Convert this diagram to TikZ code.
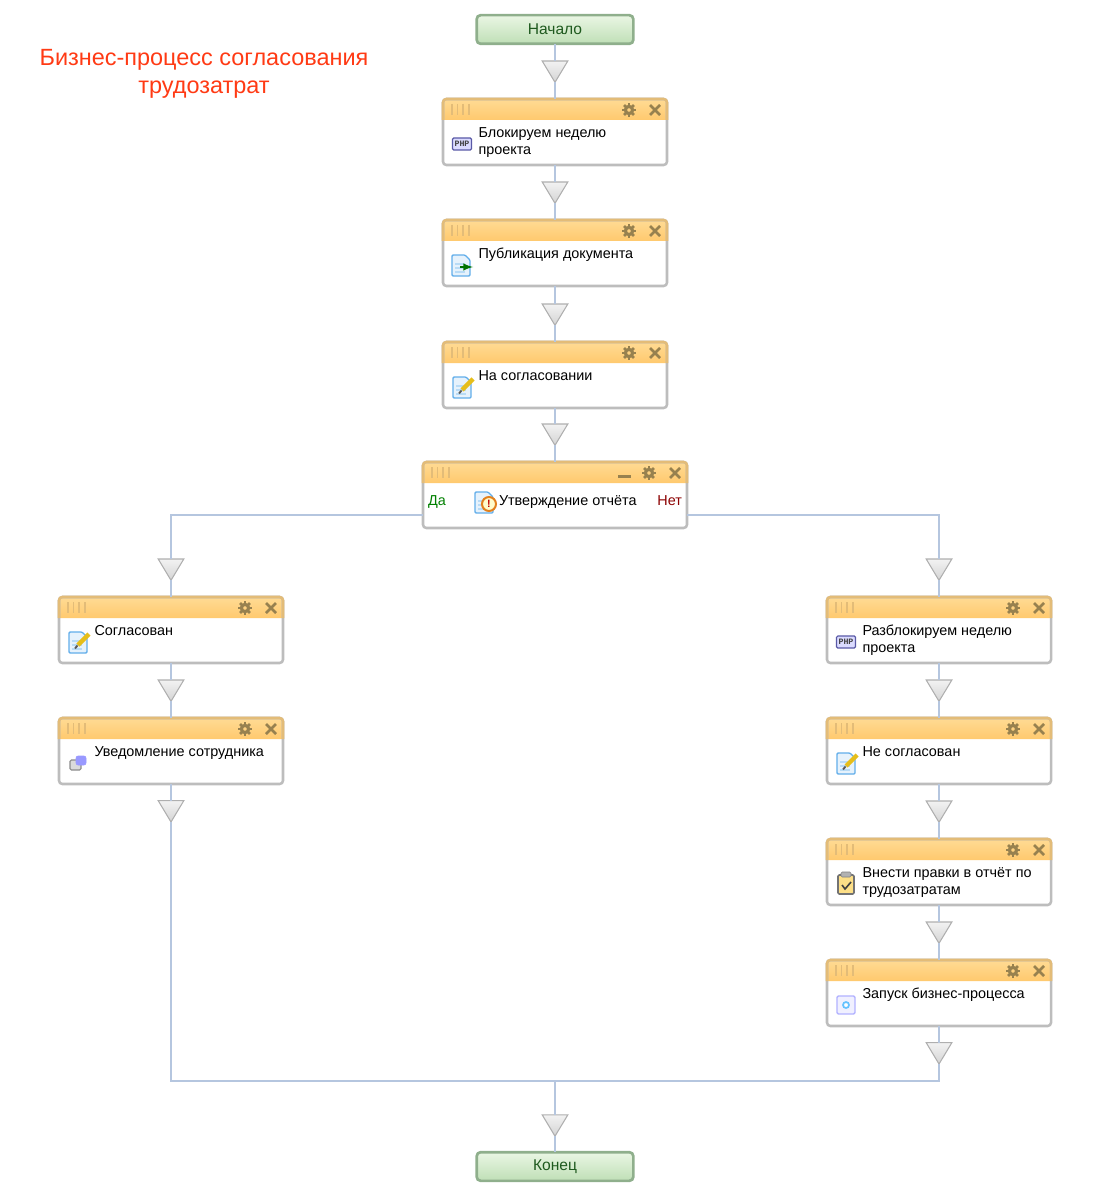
\documentclass[tikz,border=0pt]{standalone}
\usepackage{fontspec}
\setmainfont{Liberation Sans}
\setmonofont{Liberation Mono}
\usetikzlibrary{positioning, shapes.geometric}

\definecolor{linkblue}{HTML}{B5C6DF}
\definecolor{boxgray}{HTML}{BDBDBD}
\definecolor{headline}{HTML}{E3BC78}
\definecolor{headtop}{HTML}{FFDB94}
\definecolor{headbot}{HTML}{FFC96E}
\definecolor{toolcol}{HTML}{97814F}
\definecolor{titlered}{HTML}{FF3A14}
\definecolor{greentext}{HTML}{1F5A1F}
\definecolor{termline}{HTML}{8FAF8C}
\definecolor{termtop}{HTML}{EAF6E4}
\definecolor{termbot}{HTML}{BFDFB6}
\definecolor{pageline}{HTML}{62AEEA}
\definecolor{pagefill}{HTML}{E6F2FC}
\definecolor{triline}{HTML}{AFAFAF}

\tikzset{
 taskbox/.style={rectangle, rounded corners=2.5pt, fill=white, outer sep=0pt, inner sep=0pt},
 termbox/.style={rectangle, rounded corners=3pt, draw=termline, line width=2pt,
  top color=termtop, bottom color=termbot, text=greentext,
  minimum width=117.5pt, minimum height=21.5pt, outer sep=0pt, font=\fontsize{11.7pt}{12pt}\selectfont},
 flowtri/.style={isosceles triangle, isosceles triangle apex angle=62, shape border rotate=-90,
  draw=triline, line width=0.8pt, top color=black!5, bottom color=black!17,
  minimum height=16pt, inner sep=0pt, outer sep=0pt},
 tasktext/.style={anchor=base west, align=left, inner sep=0pt, outer sep=0pt,
  font=\fontsize{10.8pt}{12.75pt}\selectfont},
 link/.style={draw=linkblue, line width=2.2pt},
 iconphp/.pic={
  \draw[draw=blue!30!gray, fill=blue!14!white, rounded corners=1pt, line width=0.9pt] (-9.5,-6) rectangle (9.5,6);
  \node[font=\ttfamily\bfseries\fontsize{6.2pt}{6pt}\selectfont, text=black!75, inner sep=0pt] (-phptext) at (0,0) {PHP};
 },
 pagebase/.pic={
  \draw[draw=pageline, fill=pagefill, line width=1pt, rounded corners=0.8pt]
   (-9,-10) -- (4,-10) -- (9,-5) -- (9,11) -- (-9,11) -- cycle;
  \foreach \rowy in {-1,3,7} \draw[pageline!45, line width=0.8pt] (-6,\rowy) -- (4,\rowy);
 },
 iconedit/.pic={
  \pic at (0,0) {pagebase};
  \draw[yellow!65!orange!90!black, line width=3.2pt] (0,3) -- (11,-8);
  \draw[black!65, line width=1.4pt] (-3,6.5) -- (-0.5,3.5);
 },
 iconpub/.pic={
  \pic at (-1,0) {pagebase};
  \draw[green!45!black, line width=1.5pt, -latex] (-2,2) -- (11,2);
 },
 iconask/.pic={
  \pic at (-2,0) {pagebase};
  \draw[draw=orange!55!brown, fill=yellow!20!white, line width=1.5pt] (3,2) circle (7);
  \node[font=\bfseries\fontsize{8pt}{8pt}\selectfont, text=red!75!black, inner sep=0pt] (-marktext) at (3,2) {!};
 },
 iconmsg/.pic={
  \draw[draw=black!45, fill=black!14, rounded corners=1pt, line width=0.8pt] (-8,-3) rectangle (3,7);
  \draw[fill=blue!40!white, draw=blue!40!white, rounded corners=1.5pt] (-2,-7) rectangle (8,2);
 },
 iconclip/.pic={
  \draw[draw=black!55, fill=yellow!50!orange!45!white, rounded corners=1pt, line width=1.2pt] (-8,-9) rectangle (8,10);
  \draw[draw=black!50, fill=black!30, rounded corners=1pt] (-5,-12) rectangle (5,-7);
  \draw[black!75, line width=1.2pt] (-4,1) -- (-1,5) -- (5,-2);
 },
 iconrun/.pic={
  \draw[draw=blue!30!white, fill=blue!6!white, rounded corners=1pt, line width=1.1pt] (-9,-9) rectangle (9,9);
  \draw[draw=blue!40!cyan!60, fill=white, line width=1.3pt] (0,0) circle (3);
 },
 toolgear/.pic={
  \draw[toolcol, line width=2.4pt] (0,0) circle (3.6);
  \foreach \ang in {0,45,...,315} \draw[toolcol, line width=2pt] (\ang:4.5) -- (\ang:7);
 },
 toolcross/.pic={
  \draw[toolcol, line width=2pt] (-5,-5) -- (5,5) (-5,5) -- (5,-5);
 },
}

% frame of one block: width, name, centre x, top y
\newcommand{\taskframe}[4][224]{
 \node[taskbox, minimum width=#1*0.75pt, minimum height=49.5pt] (#2) at (#3,#4+33) {};
 \path[top color=headtop, bottom color=headbot]
  (#3-#1/2,#4+21) [rounded corners=2.5pt] -- (#3-#1/2,#4) -- (#3+#1/2,#4) [sharp corners] -- (#3+#1/2,#4+21) -- cycle;
 \foreach \gripx in {9,14.5,20,26}
  \draw[headline, line width=0.8pt] (#3-#1/2+\gripx,#4+5) -- (#3-#1/2+\gripx,#4+16);
 \pic at (#3+#1/2-38,#4+11) {toolgear};
 \pic at (#3+#1/2-12,#4+11) {toolcross};
 \draw[boxgray, line width=1.9pt, rounded corners=2.5pt] (#2.north west) rectangle (#2.south east);
 \draw[headline, line width=1.9pt, rounded corners=2.5pt]
  (#3-#1/2,#4+21) -- (#3-#1/2,#4) -- (#3+#1/2,#4) -- (#3+#1/2,#4+21);
}

% frame, icon and label: name, centre x, top y, icon, last baseline below top, text
\newcommand{\taskblock}[6]{
 \taskframe{#1}{#2}{#3}
 \pic at (#2-93,#3+45) {#4};
 \node[tasktext] (#1text) at (#2-76.5,#3+#5) {#6};
}

\begin{document}
\begin{tikzpicture}[x=0.75pt, y=-0.75pt]
 \useasboundingbox (0,0) rectangle (1110,1191);

 %%% nodes

 % title
 \node[text=titlered, align=center, inner sep=0pt, font=\fontsize{17.6pt}{21pt}\selectfont] (title) at (204,73.5)
  {Бизнес-процесс согласования\\трудозатрат};

 % main column
 \node[termbox] (start) at (555,29.5) {Начало};
 \taskblock{lockweek}{555}{99}{iconphp}{55.5}{Блокируем неделю\\проекта}
 \taskblock{publish}{555}{220}{iconpub}{38.5}{Публикация документа}
 \taskblock{onreview}{555}{342}{iconedit}{38.5}{На согласовании}

 % decision
 \taskframe[264]{decide}{555}{462}
 \draw[toolcol, line width=1.9pt] (618,476.5) -- (631,476.5);
 \pic at (486,502) {iconask};
 \node[tasktext] (decidetext) at (499,505.5) {Утверждение отчёта};
 \node[tasktext, text=green!50!black] (yestext) at (428,505.5) {Да};
 \node[tasktext, text=red!55!black, anchor=base east] (notext) at (682,505.5) {Нет};

 % left branch
 \taskblock{agreed}{171}{597}{iconedit}{38.5}{Согласован}
 \taskblock{notify}{171}{718}{iconmsg}{38.5}{Уведомление сотрудника}

 % right branch
 \taskblock{unlockweek}{939}{597}{iconphp}{55.5}{Разблокируем неделю\\проекта}
 \taskblock{rejected}{939}{718}{iconedit}{38.5}{Не согласован}
 \taskblock{fixreport}{939}{839}{iconclip}{55.5}{Внести правки в отчёт по\\трудозатратам}
 \taskblock{restart}{939}{960}{iconrun}{38.5}{Запуск бизнес-процесса}

 \node[termbox] (stop) at (555,1166.5) {Конец};

 % triangles
 \node[flowtri, above=12.5pt of lockweek] (tlock) {};
 \node[flowtri, above=12.5pt of publish] (tpublish) {};
 \node[flowtri, above=12.5pt of onreview] (treview) {};
 \node[flowtri, above=12.5pt of decide] (tdecide) {};
 \node[flowtri, above=12.5pt of agreed] (tagreed) {};
 \node[flowtri, above=12.5pt of notify] (tnotify) {};
 \node[flowtri, above=12.5pt of unlockweek] (tunlock) {};
 \node[flowtri, above=12.5pt of rejected] (trejected) {};
 \node[flowtri, above=12.5pt of fixreport] (tfix) {};
 \node[flowtri, above=12.5pt of restart] (trestart) {};
 \node[flowtri, below=12.5pt of notify] (tleftout) {};
 \node[flowtri, below=12.5pt of restart] (trightout) {};
 \node[flowtri, above=12pt of stop] (tstop) {};

 \coordinate (merge) at (555,1081);

 %%% links

 \draw[link] (start) to (tlock);
 \draw[link] (tlock) to (lockweek);
 \draw[link] (lockweek) to (tpublish);
 \draw[link] (tpublish) to (publish);
 \draw[link] (publish) to (treview);
 \draw[link] (treview) to (onreview);
 \draw[link] (onreview) to (tdecide);
 \draw[link] (tdecide) to (decide);

 \draw[link] ([yshift=-15pt]decide.west) -| (tagreed);
 \draw[link] ([yshift=-15pt]decide.east) -| (tunlock);

 \draw[link] (tagreed) to (agreed);
 \draw[link] (agreed) to (tnotify);
 \draw[link] (tnotify) to (notify);
 \draw[link] (notify) to (tleftout);

 \draw[link] (tunlock) to (unlockweek);
 \draw[link] (unlockweek) to (trejected);
 \draw[link] (trejected) to (rejected);
 \draw[link] (rejected) to (tfix);
 \draw[link] (tfix) to (fixreport);
 \draw[link] (fixreport) to (trestart);
 \draw[link] (trestart) to (restart);
 \draw[link] (restart) to (trightout);

 \draw[link] (tleftout) |- (merge);
 \draw[link] (trightout) |- (merge);
 \draw[link] (merge) to (tstop);
 \draw[link] (tstop) to (stop);

\end{tikzpicture}
\end{document}
